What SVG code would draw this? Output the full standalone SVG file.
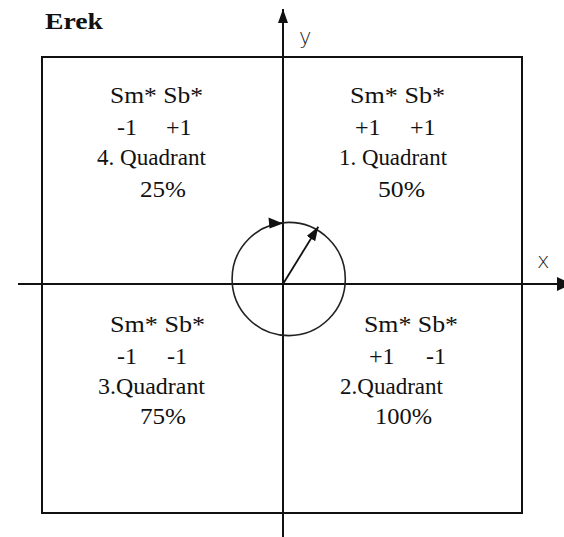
<svg xmlns="http://www.w3.org/2000/svg" width="564" height="537" viewBox="0 0 564 537">
<style>
.t{font-family:"Liberation Serif","Times New Roman",serif;font-size:24px;fill:#111}
.ax{font-family:"DejaVu Sans","Liberation Sans",sans-serif;font-size:21px;fill:#222;font-weight:300}
.ln{stroke:#111;stroke-width:2;fill:none}
</style>
<defs>
<marker id="ah" viewBox="0 0 14 10" refX="14" refY="5" markerWidth="14" markerHeight="10" markerUnits="userSpaceOnUse" orient="auto">
<path d="M0,0 L14,5 L0,10 z" fill="#111"/>
</marker>
<marker id="ahx" viewBox="0 0 15 14" refX="15" refY="7" markerWidth="15" markerHeight="14" markerUnits="userSpaceOnUse" orient="auto">
<path d="M0,0 L15,7 L0,14 z" fill="#111"/>
</marker>
</defs>
<rect width="564" height="537" fill="#fff"/>
<text x="45" y="29" style="font-family:'Liberation Serif','Times New Roman',serif;font-size:24px;font-weight:bold;fill:#111" textLength="58" lengthAdjust="spacingAndGlyphs">Erek</text>
<g id="frame">
<rect x="42" y="57" width="480" height="456" class="ln"/>
</g>
<g id="connectors">
<line x1="18" y1="284" x2="572" y2="284" class="ln" marker-end="url(#ahx)"/>
<line x1="283" y1="537" x2="283" y2="9" class="ln" marker-end="url(#ah)"/>
<circle cx="288.7" cy="279" r="56.6" fill="none" stroke="#222" stroke-width="1.6"/>
<polygon points="283,223.5 268.5,217.5 269.5,228.5" fill="#111"/>
<line x1="283" y1="284" x2="318.3" y2="226.7" stroke="#111" stroke-width="1.8" marker-end="url(#ah)"/>
</g>
<g id="axis-labels">
<text class="ax" x="299" y="44">y</text>
<text class="ax" x="537" y="268">x</text>
</g>
<g id="q4">
<text class="t" x="110" y="103" textLength="93" lengthAdjust="spacingAndGlyphs">Sm* Sb*</text>
<text class="t" x="117" y="135">-1</text>
<text class="t" x="166" y="135">+1</text>
<text class="t" x="97" y="165" textLength="109" lengthAdjust="spacingAndGlyphs">4. Quadrant</text>
<text class="t" x="140" y="197" textLength="46" lengthAdjust="spacingAndGlyphs">25%</text>
</g>
<g id="q1">
<text class="t" x="350" y="103" textLength="95" lengthAdjust="spacingAndGlyphs">Sm* Sb*</text>
<text class="t" x="355" y="135">+1</text>
<text class="t" x="410" y="135">+1</text>
<text class="t" x="339" y="165" textLength="108" lengthAdjust="spacingAndGlyphs">1. Quadrant</text>
<text class="t" x="378" y="197" textLength="47" lengthAdjust="spacingAndGlyphs">50%</text>
</g>
<g id="q3">
<text class="t" x="110" y="332" textLength="95" lengthAdjust="spacingAndGlyphs">Sm* Sb*</text>
<text class="t" x="117" y="364">-1</text>
<text class="t" x="167" y="364">-1</text>
<text class="t" x="98" y="394" textLength="107" lengthAdjust="spacingAndGlyphs">3.Quadrant</text>
<text class="t" x="140" y="424" textLength="46" lengthAdjust="spacingAndGlyphs">75%</text>
</g>
<g id="q2">
<text class="t" x="364" y="332" textLength="94" lengthAdjust="spacingAndGlyphs">Sm* Sb*</text>
<text class="t" x="369" y="364">+1</text>
<text class="t" x="426" y="364">-1</text>
<text class="t" x="340" y="394" textLength="103" lengthAdjust="spacingAndGlyphs">2.Quadrant</text>
<text class="t" x="375" y="424" textLength="57" lengthAdjust="spacingAndGlyphs">100%</text>
</g>
</svg>
